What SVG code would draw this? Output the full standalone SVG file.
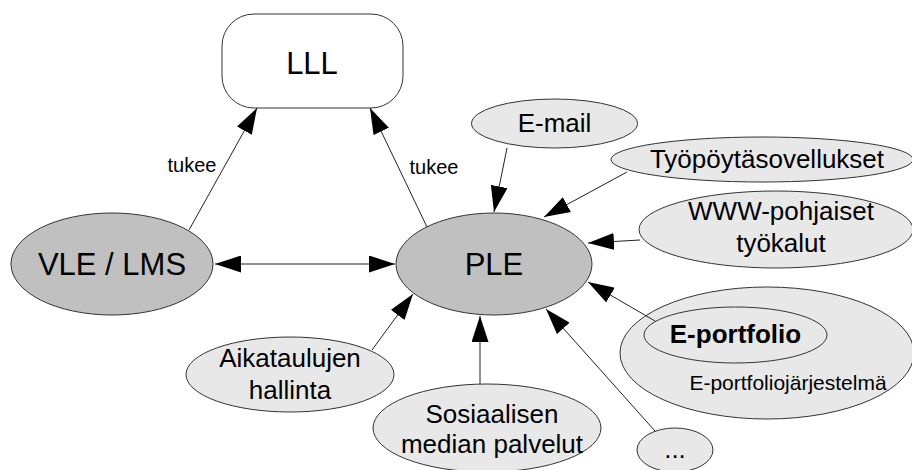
<svg xmlns="http://www.w3.org/2000/svg" width="912" height="470" viewBox="0 0 912 470">
<style>
text{font-family:"Liberation Sans",Arial,sans-serif;fill:#000;text-anchor:middle}
.main{fill:#c0c0c0;stroke:#333;stroke-width:1}
.lt{fill:#e8e8e8;stroke:#333;stroke-width:1}
.box{fill:#fff;stroke:#333;stroke-width:1}
.big{font-size:31px}
.mid{font-size:26px}
.sm{font-size:20px}
.c line{stroke:#222;stroke-width:1;marker-end:url(#ah)}
</style>
<defs>
<marker id="ah" viewBox="0 0 26 17" markerWidth="26" markerHeight="17" refX="26" refY="8.5" markerUnits="userSpaceOnUse" orient="auto-start-reverse">
<path d="M0,0 L26,8.5 L0,17 z" fill="#000"/>
</marker>
</defs>
<rect width="912" height="470" fill="#fff"/>
<g id="LLL"><rect class="box" x="222" y="14" width="181" height="94" rx="32" ry="32"/><text class="big" x="312" y="74">LLL</text></g>
<g id="VLE"><ellipse class="main" cx="112" cy="264" rx="101" ry="51"/><text class="big" x="112" y="275">VLE / LMS</text></g>
<g id="PLE"><ellipse class="main" cx="494" cy="264" rx="98" ry="51"/><text class="big" x="494" y="275">PLE</text></g>
<g id="Email"><ellipse class="lt" cx="554.5" cy="123.5" rx="83" ry="24.5"/><text class="mid" x="554.5" y="132">E-mail</text></g>
<g id="Tyopoyta"><ellipse class="lt" cx="762" cy="159.5" rx="151" ry="22.5"/><text class="mid" x="767" y="168">Työpöytäsovellukset</text></g>
<g id="WWW"><ellipse class="lt" cx="776" cy="229.5" rx="137" ry="38.5"/><text class="mid" x="781" y="220">WWW-pohjaiset</text><text class="mid" x="781" y="252">työkalut</text></g>
<g id="Eportfoliojarjestelma"><ellipse class="lt" cx="767" cy="353" rx="147" ry="66"/><text x="788" y="390" style="font-size:21px">E-portfoliojärjestelmä</text></g>
<g id="Eportfolio"><ellipse class="lt" cx="735.5" cy="335" rx="91.5" ry="28"/><text class="mid" x="735.5" y="343" style="font-weight:bold">E-portfolio</text></g>
<g id="Muut"><ellipse class="lt" cx="675" cy="450" rx="38" ry="22"/><text class="mid" x="675" y="458">...</text></g>
<g id="Sosiaalisen"><ellipse class="lt" cx="487" cy="428" rx="114" ry="44"/><text class="mid" x="492" y="423">Sosiaalisen</text><text class="mid" x="492" y="453">median palvelut</text></g>
<g id="Aikataulujen"><ellipse class="lt" cx="290" cy="374.5" rx="104" ry="37.5"/><text class="mid" x="290" y="367">Aikataulujen</text><text class="mid" x="290" y="399">hallinta</text></g>
<g id="connectors" class="c">
<line x1="189" y1="230" x2="257" y2="108"/>
<line x1="427" y1="227" x2="370" y2="108"/>
<line x1="215" y1="264" x2="395" y2="264" style="marker-start:url(#ah)"/>
<line x1="507" y1="148" x2="494" y2="212"/>
<line x1="627" y1="172" x2="544" y2="217"/>
<line x1="640" y1="240" x2="588" y2="243"/>
<line x1="655" y1="321" x2="588" y2="282"/>
<line x1="655" y1="431" x2="546" y2="309"/>
<line x1="480" y1="384" x2="480" y2="316"/>
<line x1="372" y1="350" x2="413" y2="294"/>
</g>
<g id="labels">
<text class="sm" x="192" y="172">tukee</text>
<text class="sm" x="434" y="174">tukee</text>
</g>
</svg>
